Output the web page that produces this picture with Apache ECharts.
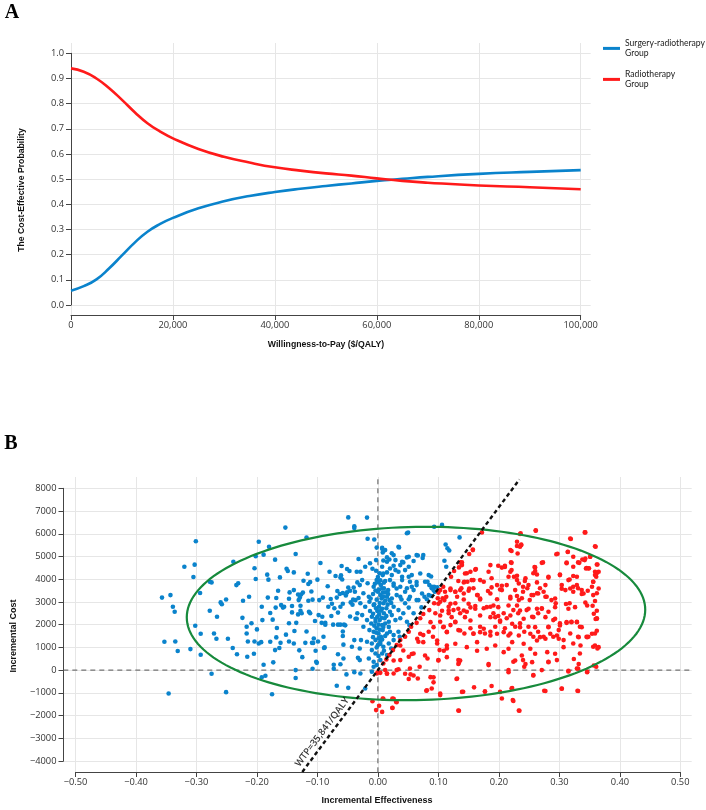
<!DOCTYPE html>
<html><head><meta charset="utf-8">
<script src="https://cdn.jsdelivr.net/npm/echarts@6.0.0/dist/echarts.min.js"></script>
<style>html,body{margin:0;padding:0;background:#fff;}#c{width:706px;height:810px;}</style>
</head><body><div id="c"></div>
<script>
// ---------- Panel A: cost-effectiveness acceptability curves ----------
const wtpValues = [0,2500,5000,7500,10000,12500,15000,17500,20000,25000,30000,35000,40000,45000,50000,55000,60000,65000,70000,80000,90000,100000];
const surgeryRadioProb = [0.057,0.075,0.102,0.146,0.197,0.248,0.291,0.322,0.346,0.384,0.412,0.433,0.449,0.462,0.473,0.483,0.493,0.501,0.509,0.521,0.529,0.536];
const radioProb = [0.940,0.927,0.900,0.861,0.815,0.766,0.722,0.689,0.662,0.620,0.589,0.566,0.547,0.534,0.523,0.514,0.503,0.493,0.486,0.475,0.468,0.460];
const seriesNames = ['Surgery-radiotherapy Group','Radiotherapy Group'];

// ---------- Panel B: incremental cost-effectiveness scatter ----------
const bluePoints = [
[-0.357,3190],[-0.343,3300],[-0.339,2790],[-0.336,2570],[-0.353,1250],[-0.335,1260],[-0.331,840],[-0.346,-1030],[-0.320,4550],[-0.303,4640],[-0.305,4100],[-0.301,5670],[-0.294,3390],[-0.302,1950],[-0.293,1600],[-0.310,925],[-0.293,675],[-0.278,3890],[-0.275,3860],[-0.278,2610],[-0.271,1610],[-0.267,1380],[-0.266,2350],[-0.275,-160],[-0.260,2980],[-0.258,2900],[-0.251,3110],[-0.248,1380],[-0.251,-970],[-0.239,4770],[-0.234,3740],[-0.231,3820],[-0.240,970],[-0.233,700],[-0.223,3050],[-0.224,2300],[-0.217,1910],[-0.217,1610],[-0.215,1260],[-0.216,590],[-0.213,3230],[-0.209,2060],[-0.204,1260],[-0.204,4480],[-0.202,4010],[-0.202,5010],[-0.200,1790],[-0.197,1170],[-0.197,5650],[-0.205,720],[-0.193,1230],[-0.192,2790],[-0.191,2200],[-0.192,-320],[-0.189,235],[-0.189,5080],[-0.186,-250],[-0.183,4200],[-0.181,3980],[-0.182,3190],[-0.180,5430],[-0.178,2510],[-0.178,1250],[-0.175,-1060],[-0.174,2220],[-0.173,340],[-0.170,4860],[-0.170,880],[-0.169,2750],[-0.168,3170],[-0.168,1440],[-0.167,1850],[-0.165,3490],[-0.163,970],[-0.162,4080],[-0.161,1200],[-0.160,2860],[-0.157,2750],[-0.155,2790],[-0.153,6270],[-0.152,1560],[-0.151,4460],[-0.149,4360],[-0.147,3140],[-0.146,3420],[-0.147,2060],[-0.147,1260],[-0.142,2820],[-0.142,2540],[-0.139,1170],[-0.139,4300],[-0.139,3520],[-0.138,1720],[-0.136,0],[-0.136,-350],[-0.136,5110],[-0.135,2080],[-0.132,2450],[-0.132,3330],[-0.131,3080],[-0.130,870],[-0.129,3190],[-0.128,2830],[-0.128,2610],[-0.127,3330],[-0.126,2500],[-0.125,570],[-0.124,3410],[-0.123,3930],[-0.120,1200],[-0.118,5830],[-0.118,1700],[-0.116,4240],[-0.115,3790],[-0.115,3050],[-0.114,2570],[-0.112,2500],[-0.112,3880],[-0.110,3460],[-0.109,1200],[-0.108,60],[-0.108,3100],[-0.107,1190],[-0.106,1390],[-0.104,2160],[-0.103,850],[-0.102,370],[-0.101,320],[-0.100,3980],[-0.099,1260],[-0.098,2420],[-0.097,3080],[-0.095,4710],[-0.093,2080],[-0.092,2350],[-0.091,3190],[-0.090,1470],[-0.089,970],[-0.088,1000],[-0.087,2080],[-0.087,2000],[-0.083,3690],[-0.082,2790],[-0.080,4330],[-0.078,3130],[-0.077,2380],[-0.076,2920],[-0.074,2000],[-0.073,235],[-0.073,60],[-0.072,2720],[-0.070,4140],[-0.068,3190],[-0.068,-690],[-0.067,3480],[-0.066,2530],[-0.066,2000],[-0.066,700],[-0.063,3350],[-0.062,4070],[-0.062,2790],[-0.062,2000],[-0.062,260],[-0.061,4170],[-0.060,4580],[-0.059,3990],[-0.058,3390],[-0.058,2920],[-0.058,1700],[-0.058,1500],[-0.057,1120],[-0.057,510],[-0.056,2000],[-0.054,1970],[-0.053,3280],[-0.052,-190],[-0.051,4450],[-0.051,3420],[-0.049,-780],[-0.049,6720],[-0.049,3630],[-0.047,4360],[-0.046,3490],[-0.046,2360],[-0.045,2980],[-0.043,1030],[-0.042,2880],[-0.041,3100],[-0.040,3630],[-0.039,6330],[-0.039,6250],[-0.038,3450],[-0.037,3080],[-0.037,2260],[-0.039,1320],[-0.039,-90],[-0.035,4330],[-0.035,2260],[-0.034,3860],[-0.034,2500],[-0.032,3170],[-0.033,540],[-0.032,4890],[-0.030,3740],[-0.030,950],[-0.030,440],
[0.021,8320],[0.107,8160],[-0.018,6710],[0.048,6020],[0.050,6050],[0.093,6310],[0.106,6390],[0.135,5840],[0.112,5530],[0.115,5360],[0.118,5260],[-0.017,5780],[-0.006,5750],[-0.002,5390],[0.007,5340],[0.008,5180],[0.015,4960],[0.019,4870],[0.035,5400],[0.023,5140],[0.048,4960],[0.066,5040],[0.074,4930],[0.051,4550],[0.040,4770],[0.026,4590],[0.009,4820],[-0.003,4840],[-0.013,4700],[-0.021,4550],[-0.009,4460],[-0.003,4370],[0.003,4260],[0.008,4180],[0.015,4300],[0.029,4400],[0.040,4110],[0.051,4110],[0.064,3880],[0.088,4120],[0.110,4810],[0.113,4550],[-0.029,4330],[-0.026,3960],[-0.017,3820],[-0.007,3670],[-0.002,3960],[0.001,3860],[0.005,3740],[0.010,3600],[0.020,3960],[0.026,3710],[0.037,3670],[0.048,3600],[0.056,3670],[0.082,3890],[0.085,3740],[0.089,3600],[0.093,3670],[0.098,3640],[0.094,3450],[0.077,3230],[0.088,3260],[-0.024,3380],[-0.015,3230],[-0.008,3350],[0.000,3450],[0.004,3300],[0.008,3410],[0.015,3230],[0.019,3080],[0.031,3300],[0.039,3110],[0.045,2940],[0.053,3230],[0.064,3080],[-0.029,2940],[-0.021,2790],[-0.014,3010],[-0.007,2860],[-0.003,2720],[0.002,2790],[0.005,2610],[0.009,2940],[0.014,2720],[0.020,2570],[0.026,2790],[0.034,2640],[0.042,2500],[0.051,2750],[0.059,2500],[0.072,2760],[-0.026,2420],[-0.018,2200],[-0.010,2350],[-0.004,2130],[-0.001,2350],[0.003,2200],[0.007,1980],[0.011,2280],[0.018,2130],[0.023,2420],[0.029,2200],[0.037,2280],[0.048,2130],[0.052,1980],[-0.024,1910],[-0.014,1760],[-0.007,1690],[-0.002,1840],[0.001,1610],[0.005,1470],[0.008,1760],[0.015,1610],[0.020,1690],[0.026,1540],[0.034,1690],[0.036,1470],[-0.028,1320],[-0.018,1250],[-0.010,1170],[-0.004,1320],[0.000,1100],[0.004,1250],[0.009,1030],[0.018,1170],[0.026,1320],[0.022,950],[-0.010,880],[-0.004,730],[0.001,620],[0.007,730],[0.015,660],[-0.015,510],[-0.007,370],[-0.002,220],[0.004,440],[-0.029,-150],[-0.007,150],[-0.010,-70],[-0.021,-810],
[0.000,4100],[0.004,3950],[-0.005,3800],[0.010,3850],[0.002,3550],[-0.004,3500],[0.012,3420],[0.006,3150],[-0.002,3100],[0.012,3050],[0.003,2950],[-0.006,2900],[0.016,2880],[0.007,2700],[-0.001,2600],[0.010,2500],[0.002,2450],[-0.008,2480],[0.014,2380],[0.006,2300],[-0.004,2250],[0.012,2050],[0.001,2000],[-0.006,1950],[0.009,1900],[0.003,1780],[-0.003,1650],[0.012,1500],[0.001,1400],[-0.008,1450],[0.007,1350],[0.004,1150],[-0.002,1000],[0.010,850],[-0.011,2050],[-0.013,2600],[-0.012,3150],[0.017,3350],[0.022,2950],[0.018,1900],
[0.007,5380],[0.012,5280],[0.026,5060],[0.034,5430],[0.051,4990],[0.064,5060],[0.075,5060],[0.015,4770],[0.029,4840],[0.042,4740],[0.059,4800],[0.007,4550],[0.020,4470],[0.037,4620],[0.009,4250],[0.023,4180],[0.034,4330],[0.045,4400],[0.056,4180],[0.070,4250],[0.084,4180],[0.012,3920],[0.026,3810],[0.040,3960],[0.053,3890],[0.064,3740],[0.078,3890],[0.089,3670],[0.092,3520],[0.007,3590],[0.017,3520],[0.031,3590],[0.045,3450],[0.059,3520],[0.073,3370],[0.084,3300],[0.009,3230],[0.023,3150],[0.037,3230],[0.051,3120],[0.067,3080],[0.081,3120]
];
const redPoints = [
[0.261,6150],[0.236,6020],[0.319,5770],[0.343,6060],[0.230,5460],[0.237,5520],[0.221,5240],[0.157,5310],[0.360,5430],[0.314,5210],[0.297,5120],[0.351,4990],[0.338,4870],[0.363,4650],[0.273,4740],[0.151,5110],[0.312,4730],[0.323,4550],[0.331,4740],[0.345,4490],[0.349,4480],[0.220,4740],[0.210,4540],[0.259,4540],[0.221,4400],[0.257,4260],[0.139,4740],[0.134,4520],[0.161,4420],[0.147,4260],[0.362,4270],[0.361,4110],[0.301,4180],[0.329,4110],[0.225,4110],[0.230,3960],[0.244,4040],[0.282,4070],[0.356,3890],[0.317,3990],[0.143,3890],[0.155,3960],[0.240,3670],[0.247,3600],[0.205,3710],[0.202,3550],[0.188,3640],[0.182,3480],[0.268,3600],[0.274,3450],[0.263,3380],[0.304,3580],[0.323,3670],[0.331,3600],[0.347,3490],[0.337,3350],[0.362,3380],[0.150,3490],[0.158,3600],[0.138,3600],[0.128,3450],[0.120,3520],[0.113,3230],[0.107,3160],[0.110,3080],[0.100,3410],[0.099,3160],[0.131,3230],[0.142,3110],[0.165,3300],[0.169,3110],[0.219,3230],[0.230,3260],[0.238,3160],[0.251,3080],[0.257,3300],[0.277,3230],[0.287,3080],[0.294,2940],[0.311,2910],[0.317,2940],[0.343,2970],[0.359,3040],[0.355,2830],[0.362,2610],[0.362,2280],[0.360,2250],[0.128,2940],[0.117,2790],[0.103,3010],[0.093,2940],[0.085,2640],[0.075,2470],[0.070,2280],[0.064,2080],[0.055,1910],[0.051,1690],[0.045,1470],[0.037,1320],[0.031,1100],[0.025,880],[0.019,660],[0.014,470],[0.009,290],[0.004,-120],[-0.002,-150],[0.095,2500],[0.106,2610],[0.117,2500],[0.125,2640],[0.136,2500],[0.147,2570],[0.153,2760],[0.161,2820],[0.175,2720],[0.186,2790],[0.191,2500],[0.199,2380],[0.208,2500],[0.213,2280],[0.224,2640],[0.232,2500],[0.246,2640],[0.255,2350],[0.265,2500],[0.271,2720],[0.282,2570],[0.290,2200],[0.301,2060],[0.312,2080],[0.320,2130],[0.329,2130],[0.334,1910],[0.348,1470],[0.359,1610],[0.362,1730],[0.356,1030],[0.363,950],[0.103,2130],[0.109,1910],[0.114,1690],[0.120,1980],[0.128,2130],[0.133,1760],[0.143,1610],[0.153,1840],[0.158,1610],[0.169,1910],[0.177,1610],[0.186,1690],[0.194,1910],[0.202,2130],[0.210,1840],[0.219,1610],[0.227,1910],[0.235,2060],[0.242,1690],[0.249,1910],[0.257,1470],[0.265,1690],[0.274,1470],[0.282,1910],[0.290,1470],[0.299,1760],[0.307,1320],[0.318,1610],[0.323,1170],[0.331,1470],[0.334,730],[0.345,1470],[0.075,1540],[0.084,1690],[0.091,1470],[0.098,1170],[0.102,880],[0.109,850],[0.114,950],[0.067,1250],[0.082,510],[0.100,440],[0.059,730],[0.051,590],[0.037,440],[0.034,40],[0.053,70],[0.054,-190],[0.069,150],[0.015,-150],[0.026,-150],[0.133,440],[0.134,320],[0.164,850],[0.183,220],[0.216,0],[0.224,370],[0.240,440],[0.242,150],[0.257,-220],[0.271,0],[0.282,370],[0.296,440],[0.315,-30],[0.346,-70],[0.361,150],[0.331,70],[0.131,-370],[0.141,-950],[0.159,-760],[0.177,-950],[0.188,-700],[0.205,-1250],[0.221,-810],[0.223,-1320],[0.234,-1790],[0.134,-1790],[0.103,-1100],[0.080,-910],[0.092,-320],[0.275,-910],[0.304,-810],[0.330,-910],[0.008,-1250],[0.024,-1250],[0.030,-1390],[0.024,-1660],[0.002,-1570],[0.007,-1840],[-0.009,-1370],[-0.003,-1760],[0.066,-370],[0.089,-810],[0.012,0],[0.000,-100],
[0.100,2917],[0.120,2917],[0.150,2917],[0.161,2700],[0.180,2770],[0.191,2840],[0.199,2770],[0.117,2625],[0.133,2700],[0.142,2625],[0.103,2400],[0.122,2330],[0.128,2110],[0.144,2330],[0.153,2180],[0.169,2400],[0.186,2330],[0.194,2330],[0.202,2180],[0.087,2110],[0.092,1890],[0.108,1890],[0.114,1670],[0.136,1740],[0.158,1600],[0.169,1670],[0.175,1820],[0.186,1520],[0.197,1600],[0.208,1670],[0.070,1600],[0.065,1380],[0.075,1230],[0.098,1300],[0.114,1080],[0.128,1160],[0.147,1010],[0.164,1230],[0.180,940],[0.194,1080],[0.208,790],[0.037,1080],[0.042,860],[0.056,710],[0.078,640],[0.100,420],[0.114,570],[0.136,420],[0.183,270],[0.133,270],[0.026,420],[0.015,-160],[0.031,0],[0.045,-160],[0.051,-390],[0.059,-240],[0.087,-310],[0.092,-540],[0.130,-390],[0.139,-960],[0.103,-1030],[0.081,-890],[0.177,-930],[0.202,-960],[0.009,-1260],[0.026,-1260],[0.031,-1410],[0.024,-1670],[0.133,-1780],
[0.216,2840],[0.230,2840],[0.235,2625],[0.249,2700],[0.263,2700],[0.271,2700],[0.293,2770],[0.315,2700],[0.326,2770],[0.346,2840],[0.357,2480],[0.362,2260],[0.219,2400],[0.241,2260],[0.257,2330],[0.277,2330],[0.293,2260],[0.222,2040],[0.235,1890],[0.260,1890],[0.282,1890],[0.301,1960],[0.312,2110],[0.320,2110],[0.329,2110],[0.337,1890],[0.216,1520],[0.233,1520],[0.252,1600],[0.268,1450],[0.285,1600],[0.296,1520],[0.346,1450],[0.354,1600],[0.222,1230],[0.241,1160],[0.263,1300],[0.277,1380],[0.299,1380],[0.332,1450],[0.359,1080],[0.365,1010],[0.216,940],[0.238,640],[0.252,940],[0.260,720],[0.280,790],[0.293,720],[0.307,1010],[0.335,1080],[0.227,420],[0.244,270],[0.255,350],[0.282,350],[0.324,490],[0.332,270],[0.357,200],[0.216,-90],[0.257,-240],[0.315,-60],[0.346,-90],[0.329,70],[0.222,-790],[0.277,-920],[0.304,-820],[0.331,-920],[0.224,-1360],[0.233,-1780],
[0.261,6130],[0.235,5990],[0.342,6060],[0.318,5790],[0.230,5650],[0.237,5500],[0.235,5430],[0.359,5450],[0.219,5280],[0.231,5130],[0.295,5100],[0.314,5200],[0.343,4910],[0.351,4990],[0.323,4990],[0.271,4720],[0.312,4700],[0.333,4720],[0.342,4840],[0.362,4650],[0.221,4720],[0.210,4590],[0.260,4520],[0.344,4470],[0.348,4470],[0.359,4330],[0.365,4330],[0.219,4330],[0.216,4110],[0.230,4150],[0.243,3920],[0.260,4360],[0.263,4210],[0.282,4110],[0.301,4210],[0.323,4140],[0.359,4180],[0.315,3960],[0.356,3890],[0.213,3740],[0.233,3810],[0.249,3740],[0.263,3860],[0.277,3740],[0.304,3740],[0.318,3590],[0.329,3740],[0.337,3520],[0.354,3670],[0.365,3590],[0.227,3520],[0.240,3450],[0.254,3300],[0.265,3370],[0.279,3230],[0.293,3150],[0.310,3520],[0.323,3450],[0.340,3370],[0.356,3300],[0.219,3150],[0.233,3080],
[0.172,6060],[0.157,5280],[0.199,4590],[0.136,4740],[0.139,4620],[0.126,4360],[0.144,4250],[0.153,4330],[0.162,4450],[0.183,4330],[0.186,4620],[0.205,4510],[0.121,4110],[0.133,3920],[0.142,3860],[0.148,3890],[0.158,3960],[0.169,3960],[0.175,3890],[0.188,4040],[0.197,3740],[0.205,3520],[0.108,3670],[0.120,3590],[0.136,3520],[0.151,3590],[0.111,3450],[0.103,3520],[0.128,3450],[0.142,3370],[0.164,3300],[0.169,3150],[0.186,3370],[0.197,3120]
];
const wtpThreshold = 35841;          // $/QALY
const wtpLineEffect = [-0.125, 0.234]; // x extent of the WTP line
const wtpLabelText = 'WTP=35,841/QALY';
const wtpLabelAt = [-0.092, -2730];
// 95% ellipse: centre x, centre y, x semi-axis, y shear, y semi-axis
const ellipseParams = [0.063, 2490, 0.379, 168, 3812];

const BLUE = '#0a83cc', RED = '#ff1a1a', GREEN = '#178a3c';
const TICK_FONT = 'Open Sans';
const gridLineStyle = {color: '#e6e6e6', width: 1};
const axisLineStyle = {color: '#444', width: 1};
const minus = s => String(s).replace('-', '\u2212');

function mainX(gi, min, max, interval, offset, fmt) {
  return {type:'value', gridIndex: gi, min, max, interval, offset,
    axisLine:{show:true, onZero:false, lineStyle:axisLineStyle},
    axisTick:{show:true, length:5, lineStyle:axisLineStyle},
    axisLabel:{show:true, margin:6, fontSize:9.3, fontFamily:TICK_FONT, color:'#333', formatter: fmt},
    splitLine:{show:false}};
}
function mainY(gi, min, max, interval, offset, fmt) {
  return {type:'value', gridIndex: gi, min, max, interval, offset,
    axisLine:{show:true, onZero:false, lineStyle:axisLineStyle},
    axisTick:{show:true, length:5, lineStyle:axisLineStyle},
    axisLabel:{show:true, margin:7, fontSize:9.3, fontFamily:TICK_FONT, color:'#333', formatter: fmt},
    splitLine:{show:false}};
}
function splitAxis(gi, min, max, interval) {
  return {type:'value', gridIndex: gi, min, max, interval,
    axisLine:{show:false}, axisTick:{show:false}, axisLabel:{show:false},
    splitLine:{show:true, lineStyle:gridLineStyle}};
}
function dummy(gi) { return {type:'value', gridIndex: gi, min:0, max:1, show:false}; }

const chart = echarts.init(document.getElementById('c'), null, {renderer:'canvas'});

const option = {
  animation: false,
  backgroundColor: '#fff',
  grid: [
    {left:71, top:53.3, width:509.7, height:251.7},   // 0 A main
    {left:71, top:43, width:509.7, height:272},       // 1 A vertical grid lines
    {left:71, top:53.3, width:519.7, height:251.7},   // 2 A horizontal grid lines
    {left:75.5, top:488.3, width:604.8, height:272.7},// 3 B main
    {left:75.5, top:477, width:604.8, height:295.3},  // 4 B vertical grid lines
    {left:63.3, top:488.3, width:628.4, height:272.7} // 5 B horizontal grid lines
  ],
  xAxis: [
    mainX(0, 0, 100000, 20000, 10, v => v.toLocaleString('en-US')),
    splitAxis(1, 0, 100000, 20000),
    dummy(2),
    mainX(3, -0.5, 0.5, 0.1, 11, v => minus(v.toFixed(2))),
    splitAxis(4, -0.5, 0.5, 0.1),
    dummy(5)
  ],
  yAxis: [
    mainY(0, 0, 1, 0.1, 0, v => v.toFixed(1)),
    dummy(1),
    splitAxis(2, 0, 1, 0.1),
    mainY(3, -4000, 8000, 1000, 12, v => minus(v)),
    dummy(4),
    splitAxis(5, -4000, 8000, 1000)
  ],
  legend: {
    orient:'vertical', left:603, top:34.3, padding:0, itemGap:2.8,
    icon:'rect', itemWidth:17, itemHeight:3,
    data: seriesNames,
    formatter: n => n.replace(' ', '\n'),
    textStyle:{fontFamily:'Lato', fontSize:8.6, color:'#222', lineHeight:9.4, padding:[9.4,0,0,0]}
  },
  series: [
    {name: seriesNames[0], type:'line', xAxisIndex:0, yAxisIndex:0, smooth:true, showSymbol:false, symbol:'none',
     color: BLUE, lineStyle:{color:BLUE, width:2.6}, data: wtpValues.map((w,i)=>[w, surgeryRadioProb[i]]), z:3},
    {name: seriesNames[1], type:'line', xAxisIndex:0, yAxisIndex:0, smooth:true, showSymbol:false, symbol:'none',
     color: RED, lineStyle:{color:RED, width:2.6}, data: wtpValues.map((w,i)=>[w, radioProb[i]]), z:3},
    // zero reference lines
    {type:'line', xAxisIndex:4, yAxisIndex:4, data:[[0,0],[0,1]], symbol:'none', silent:true,
     lineStyle:{color:'#555', width:1, type:[5,4]}, z:1},
    {type:'line', xAxisIndex:5, yAxisIndex:5, data:[[0,0],[1,0]], symbol:'none', silent:true,
     lineStyle:{color:'#555', width:1, type:[5,4]}, z:1},
    {type:'scatter', xAxisIndex:3, yAxisIndex:3, data: bluePoints, symbolSize:4.6,
     itemStyle:{color:BLUE, opacity:1}, z:2},
    {type:'scatter', xAxisIndex:3, yAxisIndex:3, data: redPoints, symbolSize:4.6,
     itemStyle:{color:RED, opacity:1}, z:2},
    {type:'custom', xAxisIndex:3, yAxisIndex:3, data:[[ellipseParams[0], ellipseParams[1]]], clip:false, z:4, silent:true,
     renderItem: (params, api) => {
       const [cx, cy, a, c, d] = ellipseParams;
       const pts = [];
       for (let i = 0; i <= 180; i++) {
         const t = i / 180 * 2 * Math.PI;
         pts.push(api.coord([cx + a * Math.cos(t), cy + c * Math.cos(t) + d * Math.sin(t)]));
       }
       return {type:'polyline', shape:{points:pts}, style:{fill:null, stroke:GREEN, lineWidth:2.2}};
     }},
    {type:'line', xAxisIndex:3, yAxisIndex:3, clip:false, symbol:'none', silent:true, z:5,
     data: wtpLineEffect.map(x => [x, wtpThreshold * x]),
     lineStyle:{color:'#111', width:2.4, type:[4,3]}},
    {type:'scatter', xAxisIndex:3, yAxisIndex:3, data:[wtpLabelAt], symbolSize:0, silent:true, z:6,
     label:{show:true, position:'inside', rotate:53.3, formatter: wtpLabelText,
            fontFamily:TICK_FONT, fontSize:9.5, color:'#000', fontWeight:600, textBorderWidth:0}}
  ],
  graphic: [
    {type:'text', x:12, y:13, style:{text:'A', font:'bold 20px "Liberation Serif"', fill:'#000', align:'center', verticalAlign:'middle', textAlign:'center', textVerticalAlign:'middle'}},
    {type:'text', x:11, y:444, style:{text:'B', font:'bold 20px "Liberation Serif"', fill:'#000', align:'center', verticalAlign:'middle', textAlign:'center', textVerticalAlign:'middle'}},
    {type:'text', x:21.5, y:190, rotation:Math.PI/2, style:{text:'The Cost-Effective Probability', font:'bold 8.7px "Liberation Sans"', fill:'#111', align:'center', verticalAlign:'middle', textAlign:'center', textVerticalAlign:'middle'}},
    {type:'text', x:326, y:345, style:{text:'Willingness-to-Pay ($/QALY)', font:'bold 8.7px "Liberation Sans"', fill:'#111', align:'center', verticalAlign:'middle', textAlign:'center', textVerticalAlign:'middle'}},
    {type:'text', x:14, y:636, rotation:Math.PI/2, style:{text:'Incremental Cost', font:'bold 9px "Liberation Sans"', fill:'#111', align:'center', verticalAlign:'middle', textAlign:'center', textVerticalAlign:'middle'}},
    {type:'text', x:377, y:801, style:{text:'Incremental Effectiveness', font:'bold 9px "Liberation Sans"', fill:'#111', align:'center', verticalAlign:'middle', textAlign:'center', textVerticalAlign:'middle'}}
  ]
};
chart.setOption(option);
</script>
</body></html>
